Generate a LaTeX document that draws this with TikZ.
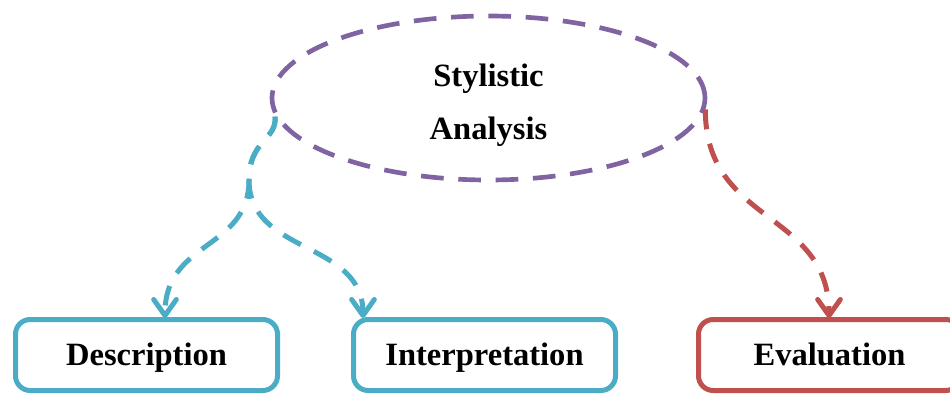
\documentclass[tikz,border=0pt]{standalone}
\usepackage{fontspec}
\setmainfont{Liberation Serif}
\usetikzlibrary{arrows.meta,shapes.geometric}
\definecolor{accblue}{HTML}{4BACC6}
\definecolor{accred}{HTML}{C0504D}
\definecolor{accpurple}{HTML}{8064A2}
\begin{document}
\begin{tikzpicture}[x=0.75pt,y=-0.75pt,
  labeltext/.style={font=\fontsize{24.4}{39.75}\selectfont\bfseries, align=center, inner sep=0pt},
  leafbox/.style={draw, rounded corners=11pt, line width=3.75pt, fill=white,
    minimum width=196.5pt, minimum height=53.25pt, inner sep=0pt, labeltext,
    text height=20pt, text depth=5pt},
  link/.style={line width=3.75pt, dash pattern=on 15pt off 11pt,
    -{Straight Barb[length=12pt,width=17pt,line cap=round,line join=round]}}
]
\useasboundingbox (0,0) rectangle (950,396);

% root ellipse and its two-line title
\node[ellipse, draw=accpurple, line width=3.5pt, dash pattern=on 17pt off 11pt,
      minimum width=324.75pt, minimum height=123pt, inner sep=0pt] (ell) at (488.5,98) {};
\node[labeltext] (title) at (488.5,105) {Stylistic\\Analysis};

% leaf boxes
\node[leafbox, draw=accblue] (desc) at (146.5,355) {Description};
\node[leafbox, draw=accblue] (interp) at (484.5,355) {Interpretation};
\node[leafbox, draw=accred] (eval) at (829.5,355) {Evaluation};

% arrow tip points on the box tops
\coordinate (t1) at (165,318);
\coordinate (t2) at (363,318);
\coordinate (t3) at (829,318);

% curved connectors
\draw[link, accblue] (ell.185) .. controls (277,140) and (249,140) .. (249,180)
  .. controls (249,250) and (165,240) .. (t1);
\draw[link, accblue] (ell.185) .. controls (277,140) and (249,140) .. (249,180)
  .. controls (249,255) and (363,240) .. (t2);
\draw[link, accred] (ell.357) .. controls (705,225) and (829,210) .. (t3);
\end{tikzpicture}
\end{document}
